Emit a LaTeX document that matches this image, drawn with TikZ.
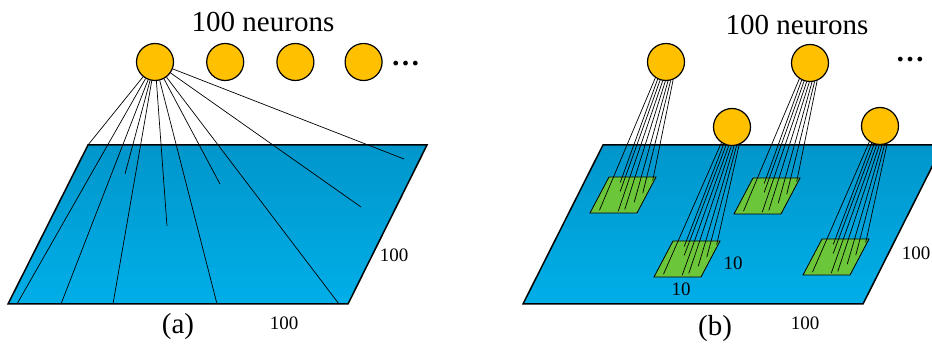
\documentclass[tikz,border=0pt]{standalone}
\usepackage{fontspec}
\setmainfont{Liberation Serif}
\usetikzlibrary{calc,positioning}
\definecolor{neuronfill}{HTML}{FFC000}
\definecolor{planetop}{HTML}{0096CB}
\definecolor{planebot}{HTML}{00AEE8}
\definecolor{patchfill}{HTML}{6CC63A}

\begin{document}
\begin{tikzpicture}[x=1pt, y=-1pt,
  neuron/.style={circle, draw, line width=1.2pt, fill=neuronfill, minimum size=37pt, inner sep=0pt},
  plane/.style={draw, line width=1.5pt, top color=planetop, bottom color=planebot},
  patch/.style={draw, line width=0.8pt, fill=patchfill},
  wire/.style={line width=0.7pt},
  big/.style={font=\fontsize{29}{32}\selectfont},
  small/.style={font=\fontsize{19}{21}\selectfont}]

\useasboundingbox (0,0) rectangle (932,347);
\clip (0,0) rectangle (932,347);

% Piano (a)
\draw[plane] (88,145) -- (427,145) -- (348,304) -- (8,304) -- cycle;

% Neuroni (a)
\node[neuron] (na1) at (155,62) {};
\node[neuron, right=32pt of na1] (na2) {};
\node[neuron, right=32pt of na2] (na3) {};
\node[neuron, right=30pt of na3] (na4) {};
\node[big, right=5pt of na4, yshift=-2pt] (dotsa) {\textbf{\ldots}};

% Connessioni (a)
\foreach \x/\y [count=\i] in {88/145, 17/304, 61/304, 113/304, 125/174, 167/226,
                              217/304, 220/184, 339/304, 361/207, 404/159}
  \coordinate (ta\i) at (\x,\y);
\foreach \i in {1,...,11}
  \draw[wire] (na1) -- (ta\i);

% Testi (a)
\node[big] (titlea) at (263,22) {100 neurons};
\node[big] (laba) at (178,327) {(a)};
\node[small] (sidea) at (394,255) {100};
\node[small] (basea) at (284,323) {100};

% Piano (b)
\draw[plane] (603,145) -- (943,145) -- (863,304) -- (523,304) -- cycle;

% Campi recettivi (b)
\foreach \x/\y [count=\k] in {609/177, 673/241, 753/178, 822/239} {
  \coordinate (p\k) at (\x,\y);
  \draw[patch] (p\k) -- ++(47,0) -- ++(-19,36) -- ++(-47,0) -- cycle;
}

% Neuroni (b)
\node[neuron] (nb1) at (666,62) {};
\node[neuron] (nb2) at (732,127) {};
\node[neuron] (nb3) at (810,63) {};
\node[neuron] (nb4) at (880,126) {};
\node[big] (dotsb) at (910,60) {\textbf{\ldots}};

% Connessioni (b)
\foreach \k in {1,...,4}
  \foreach \a/\u/\v [count=\i] in {-124/0.17/0.92, -116/0.30/0.15, -108/0.40/0.40,
                                   -100/0.58/0.95, -92/0.70/0.90, -84/0.82/0.70,
                                   -76/0.90/0.45, -68/0.97/0.10} {
    \coordinate (t\k-\i) at ($(p\k)+(47*\u-19*\v, 36*\v)$);
    \draw[wire] (nb\k.\a) -- (t\k-\i);
  }

% Testi (b)
\node[big] (titleb) at (797,25) {100 neurons};
\node[big] (labb) at (715,329) {(b)};
\node[small] (sideb) at (916,253) {100};
\node[small] (baseb) at (805,323) {100};
\node[small] (patchh) at (733,263) {10};
\node[small] (patchw) at (681,289) {10};

\end{tikzpicture}
\end{document}
